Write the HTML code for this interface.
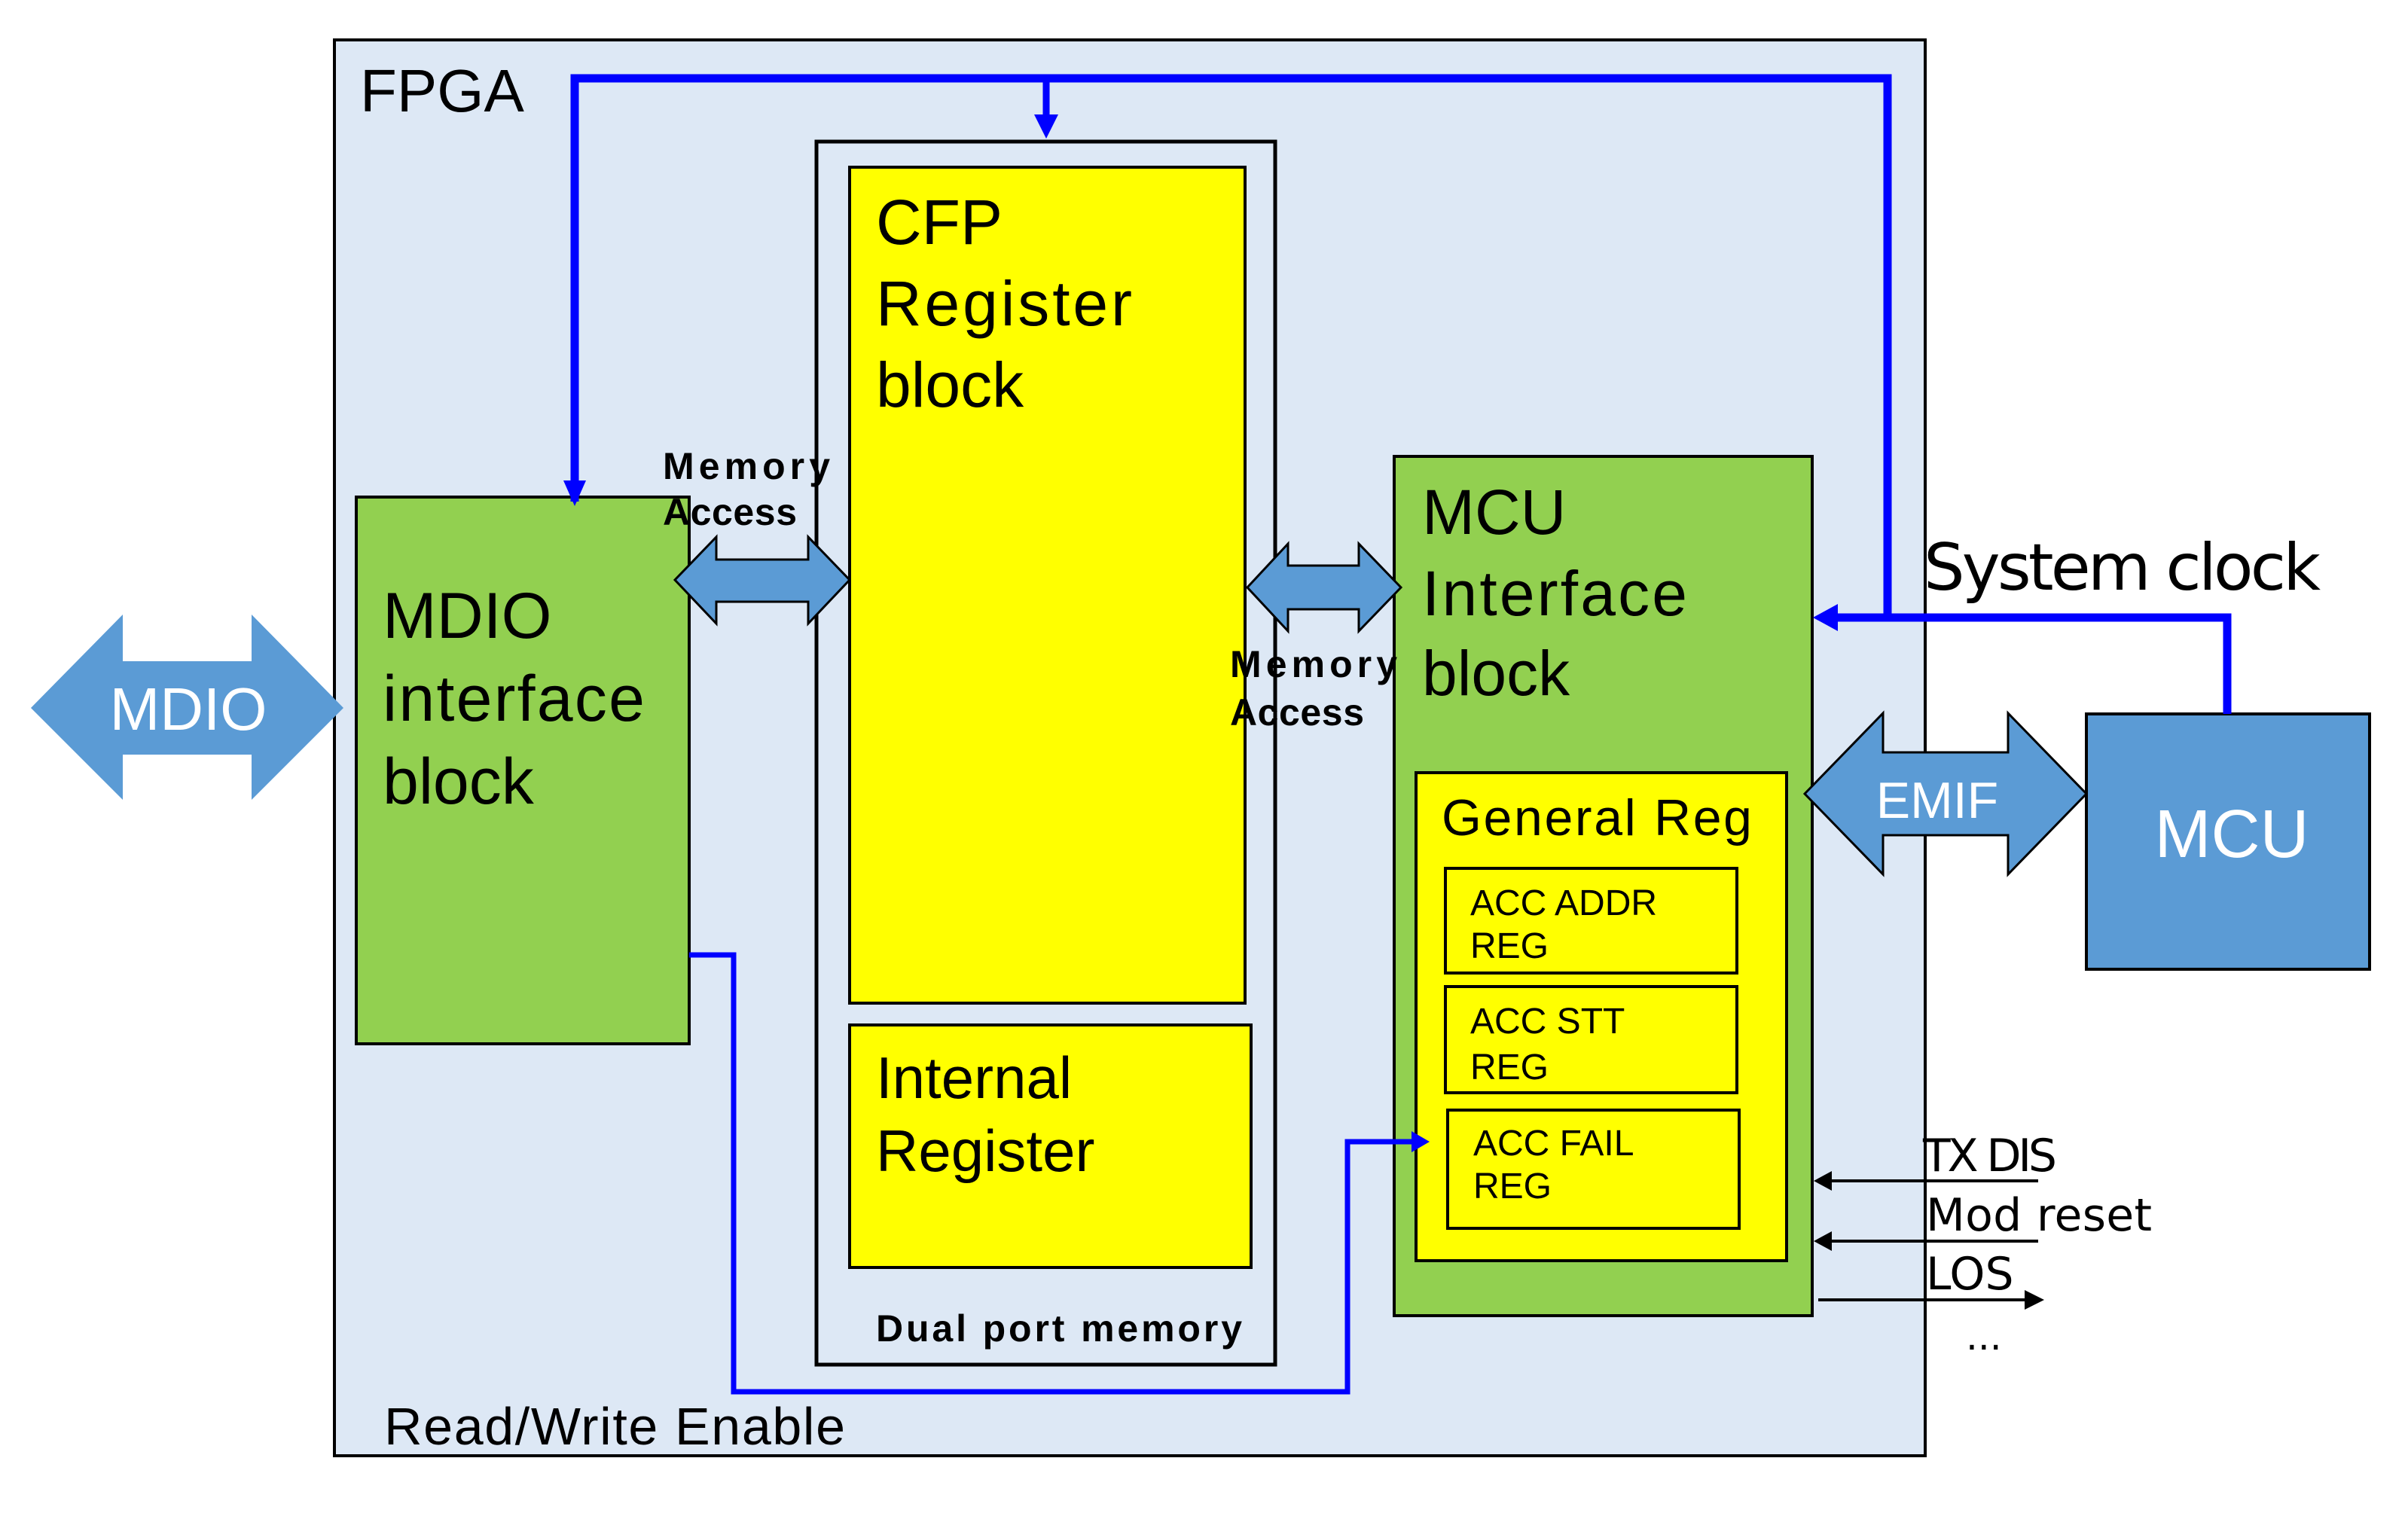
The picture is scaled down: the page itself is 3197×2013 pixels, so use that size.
<!DOCTYPE html>
<html><head><meta charset="utf-8"><style>
html,body{margin:0;padding:0;background:#fff;}
svg{display:block;}
text{font-family:"Liberation Sans",sans-serif;}
.d{font-family:"DejaVu Sans","Liberation Sans",sans-serif;}
</style></head><body>
<svg width="3197" height="2013" viewBox="0 0 3197 2013" xmlns="http://www.w3.org/2000/svg">
<rect x="0" y="0" width="3197" height="2013" fill="#fff"/>
<!-- FPGA -->
<rect x="444" y="53" width="2112" height="1880" fill="#dde8f5" stroke="#000" stroke-width="4"/>
<text x="478" y="148" font-size="80">FPGA</text>
<!-- dual port -->
<rect x="1084" y="188" width="609" height="1624" fill="#dde8f5" stroke="#000" stroke-width="5"/>
<rect x="1128" y="222" width="525" height="1110" fill="#ffff00" stroke="#000" stroke-width="4"/>
<text x="1163" y="324" font-size="84">CFP</text>
<text x="1163" y="432" font-size="84" textLength="340">Register</text>
<text x="1163" y="540" font-size="84">block</text>
<rect x="1128" y="1361" width="533" height="322" fill="#ffff00" stroke="#000" stroke-width="4"/>
<text x="1163" y="1458" font-size="78">Internal</text>
<text x="1163" y="1555" font-size="78">Register</text>
<text x="1163" y="1781" font-size="50" font-weight="bold" textLength="486">Dual port memory</text>
<!-- MDIO block -->
<rect x="473" y="660" width="442" height="726" fill="#92d050" stroke="#000" stroke-width="4"/>
<text x="508" y="847" font-size="86">MDIO</text>
<text x="508" y="957" font-size="86" textLength="348">interface</text>
<text x="508" y="1067" font-size="86">block</text>
<!-- MCU interface -->
<rect x="1851" y="606" width="555" height="1141" fill="#92d050" stroke="#000" stroke-width="4"/>
<text x="1888" y="709" font-size="84">MCU</text>
<text x="1888" y="817" font-size="84" textLength="352">Interface</text>
<text x="1888" y="923" font-size="84">block</text>
<rect x="1880" y="1026" width="492" height="648" fill="#ffff00" stroke="#000" stroke-width="4"/>
<text x="1914" y="1109" font-size="68" textLength="412">General Reg</text>
<rect x="1919" y="1153" width="387" height="139" fill="#ffff00" stroke="#000" stroke-width="4"/>
<text x="1952" y="1215" font-size="48">ACC ADDR</text>
<text x="1952" y="1272" font-size="48">REG</text>
<rect x="1919" y="1310" width="387" height="141" fill="#ffff00" stroke="#000" stroke-width="4"/>
<text x="1952" y="1372" font-size="48">ACC STT</text>
<text x="1952" y="1433" font-size="48">REG</text>
<rect x="1922" y="1474" width="387" height="157" fill="#ffff00" stroke="#000" stroke-width="4"/>
<text x="1956" y="1534" font-size="48">ACC FAIL</text>
<text x="1956" y="1591" font-size="48">REG</text>
<!-- MCU -->
<rect x="2770" y="948" width="376" height="339" fill="#5b9bd5" stroke="#000" stroke-width="4"/>
<text x="2963" y="1138" font-size="90" fill="#fff" text-anchor="middle">MCU</text>
<!-- MDIO external arrow -->
<polygon points="41,940 163,816 163,878 334,878 334,816 456,940 334,1062 334,1002 163,1002 163,1062" fill="#5b9bd5"/>
<text x="250" y="969" font-size="80" fill="#fff" text-anchor="middle">MDIO</text>
<!-- memory access arrows -->
<polygon points="896,770 951,713 951,743 1073,743 1073,713 1128,770 1073,828 1073,799 951,799 951,828" fill="#5b9bd5" stroke="#000" stroke-width="3"/>
<text x="880" y="636" font-size="50" font-weight="bold" textLength="222">Memory</text>
<text x="880" y="697" font-size="50" font-weight="bold" textLength="178">Access</text>
<polygon points="1656,780 1710,722 1710,751 1804,751 1804,722 1860,780 1804,838 1804,809 1710,809 1710,838" fill="#5b9bd5" stroke="#000" stroke-width="3"/>
<text x="1633" y="899" font-size="50" font-weight="bold" textLength="222">Memory</text>
<text x="1633" y="963" font-size="50" font-weight="bold" textLength="178">Access</text>
<!-- EMIF -->
<polygon points="2396,1054 2500,947 2500,999 2666,999 2666,947 2770,1054 2666,1161 2666,1109 2500,1109 2500,1161" fill="#5b9bd5" stroke="#000" stroke-width="3"/>
<text x="2572" y="1086" font-size="68" fill="#fff" text-anchor="middle">EMIF</text>
<!-- blue lines -->
<polyline points="763,666 763,104 2506,104 2506,822" fill="none" stroke="#0000ff" stroke-width="11"/>
<polygon points="748,638 778,638 763,672" fill="#0000ff"/>
<line x1="1389" y1="104" x2="1389" y2="160" stroke="#0000ff" stroke-width="9"/>
<polygon points="1373,152 1405,152 1389,184" fill="#0000ff"/>
<polyline points="2430,820 2957,820 2957,948" fill="none" stroke="#0000ff" stroke-width="11"/>
<polygon points="2407,820 2440,802 2440,838" fill="#0000ff"/>
<polyline points="915,1268 974,1268 974,1848 1789,1848 1789,1516 1880,1516" fill="none" stroke="#0000ff" stroke-width="7"/>
<polygon points="1898,1516 1874,1502 1874,1530" fill="#0000ff"/>
<text x="510" y="1918" font-size="70" textLength="612">Read/Write Enable</text>
<text x="2554" y="783" font-size="86" class="d" textLength="527">System clock</text>
<!-- signals -->
<line x1="2425" y1="1568" x2="2706" y2="1568" stroke="#000" stroke-width="4"/>
<polygon points="2408,1568 2432,1555 2432,1581" fill="#000"/>
<line x1="2425" y1="1648" x2="2706" y2="1648" stroke="#000" stroke-width="4"/>
<polygon points="2408,1648 2432,1635 2432,1661" fill="#000"/>
<line x1="2414" y1="1726" x2="2700" y2="1726" stroke="#000" stroke-width="4"/>
<polygon points="2714,1726 2688,1713 2688,1739" fill="#000"/>
<text x="2553" y="1555" font-size="60" class="d" textLength="178">TX DIS</text>
<text x="2557" y="1634" font-size="60" class="d" textLength="300">Mod reset</text>
<text x="2557" y="1712" font-size="60" class="d">LOS</text>
<text x="2610" y="1792" font-size="50" class="d">...</text>
</svg>
</body></html>
